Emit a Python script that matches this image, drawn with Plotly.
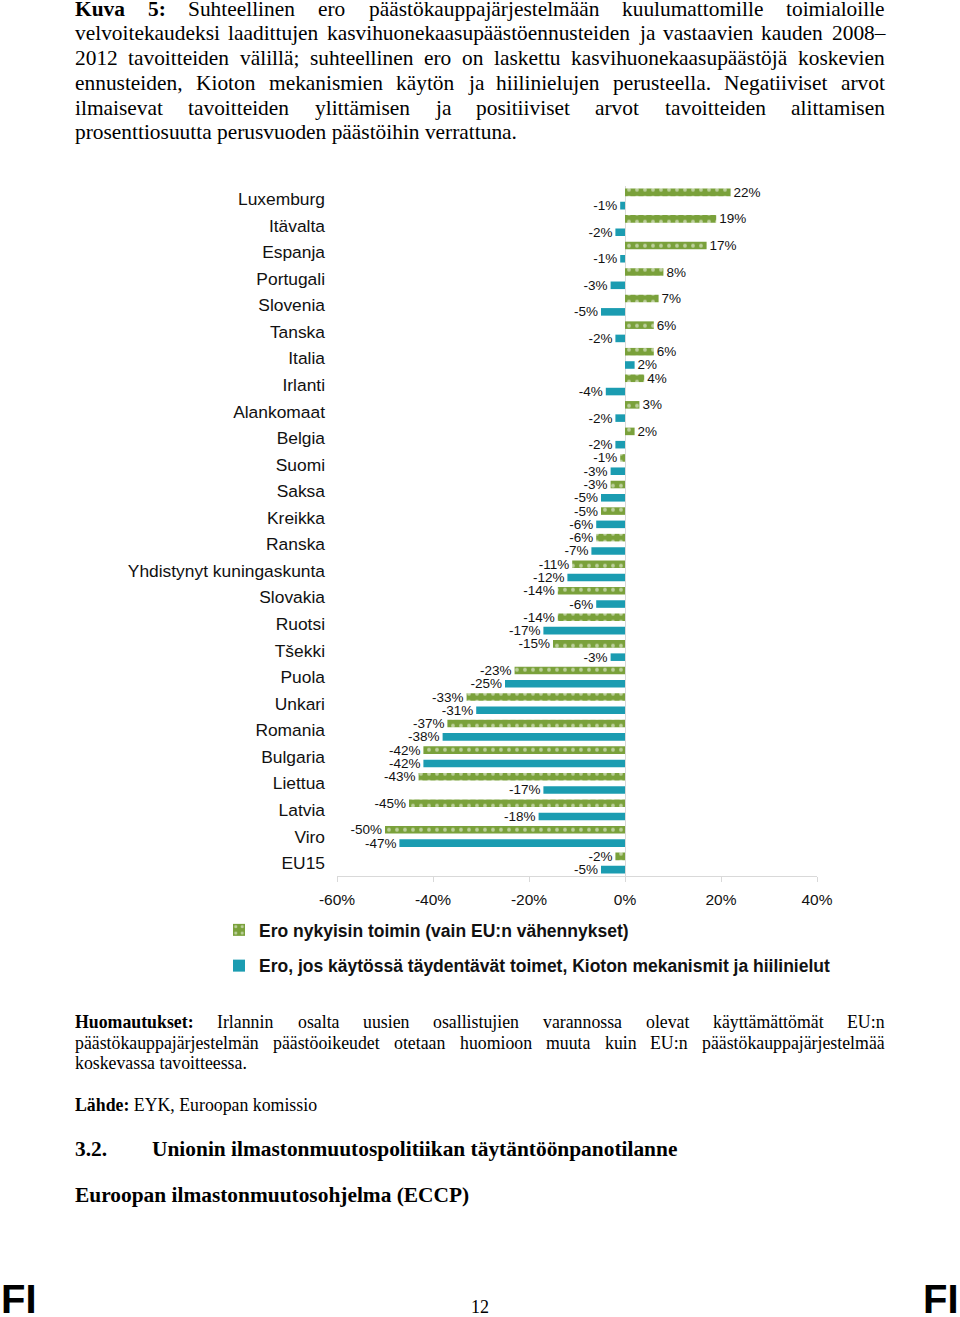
import plotly.graph_objects as go

# ---------------- data ----------------
categories = ["Luxemburg", "Itävalta", "Espanja", "Portugali", "Slovenia", "Tanska",
              "Italia", "Irlanti", "Alankomaat", "Belgia", "Suomi", "Saksa", "Kreikka",
              "Ranska", "Yhdistynyt kuningaskunta", "Slovakia", "Ruotsi", "Tšekki",
              "Puola", "Unkari", "Romania", "Bulgaria", "Liettua", "Latvia", "Viro", "EU15"]
current_measures = [22, 19, 17, 8, 7, 6, 6, 4, 3, 2, -1, -3, -5, -6, -11, -14, -14, -15,
                    -23, -33, -37, -42, -43, -45, -50, -2]
with_supplementary = [-1, -2, -1, -3, -5, -2, 2, -4, -2, -2, -3, -5, -6, -7, -12, -6, -17, -3,
                      -25, -31, -38, -42, -17, -18, -47, -5]
series_names = ["Ero nykyisin toimin (vain EU:n vähennykset)",
                "Ero, jos käytössä täydentävät toimet, Kioton mekanismit ja hiilinielut"]
x_ticks = [-60, -40, -20, 0, 20, 40]

W, H = 960, 1317
GREEN = "#7aa13b"
TEAL = "#1b9cb1"
SANS = "Liberation Sans, Arial, sans-serif"
SERIF = "Liberation Serif, Times New Roman, serif"

def px(x):
    return x / W

def py(y):
    return 1 - y / H

fig = go.Figure()
fig.add_trace(go.Bar(
    y=categories, x=current_measures, orientation="h", name="<b>" + series_names[0] + "</b>",
    marker=dict(color=GREEN, line=dict(width=0),
                pattern=dict(shape=".", fgcolor="white", size=8, solidity=0.18)),
    text=[f"{v}%" for v in current_measures], texttemplate="%{text}",
    textposition="outside", constraintext="none", cliponaxis=False,
    textfont=dict(family=SANS, size=13.5, color="#111"), legendgroup="g1",
))
fig.add_trace(go.Bar(
    y=categories, x=with_supplementary, orientation="h", name="<b>" + series_names[1] + "</b>",
    marker=dict(color=TEAL, line=dict(width=0)),
    text=[f"{v}%" for v in with_supplementary], texttemplate="%{text}",
    textposition="outside", constraintext="none", cliponaxis=False,
    textfont=dict(family=SANS, size=13.5, color="#111"), legendgroup="g2",
))

fig.update_layout(
    width=W, height=H, margin=dict(l=0, r=0, t=0, b=0, autoexpand=False),
    paper_bgcolor="white", plot_bgcolor="white",
    barmode="group", bargap=0.0, bargroupgap=0.43,
    font=dict(family=SANS, color="#111"),
    showlegend=True,
    xaxis=dict(domain=[px(337), px(817)], range=[-60, 40], tickvals=x_ticks,
               ticktext=[f"{v}%" for v in x_ticks], tickfont=dict(size=15.5, color="#111"),
               showgrid=False, zeroline=True, zerolinecolor="#d9d9d9", zerolinewidth=1,
               showline=True, linecolor="#d9d9d9", linewidth=1,
               ticks="outside", ticklen=5, tickcolor="#d9d9d9", ticklabelstandoff=4,
               anchor="y", fixedrange=True, automargin=False),
    yaxis=dict(domain=[py(876.3), py(185.7)], autorange="reversed", type="category",
               tickfont=dict(size=17.4, color="#111"), showgrid=False, showline=False,
               ticks="", ticklabelstandoff=11, fixedrange=True, automargin=False),
    legend=dict(x=px(219), y=py(912), xanchor="left", yanchor="top",
                orientation="v", traceorder="grouped", tracegroupgap=10,
                font=dict(family=SANS, size=17.5, color="#111"), bgcolor="rgba(0,0,0,0)"),
)

# ---------------- surrounding document text ----------------
REG = {" ": 250, "a": 444, "b": 500, "c": 444, "d": 500, "e": 444, "f": 333, "g": 500, "h": 500,
       "i": 278, "j": 278, "k": 500, "l": 278, "m": 778, "n": 500, "o": 500, "p": 500, "q": 500,
       "r": 333, "s": 389, "t": 278, "u": 500, "v": 500, "w": 722, "x": 500, "y": 500, "z": 444,
       "ä": 444, "ö": 500, "A": 722, "B": 667, "C": 667, "D": 722, "E": 611, "F": 556, "G": 722,
       "H": 722, "I": 333, "J": 389, "K": 722, "L": 611, "M": 889, "N": 722, "O": 722, "P": 556,
       "R": 667, "S": 556, "T": 611, "U": 722, "V": 722, "Y": 722, ":": 278, ";": 278, ",": 250,
       ".": 250, "–": 500, "(": 333, ")": 333, "-": 333}
BOLD = {" ": 250, "a": 500, "b": 556, "c": 444, "d": 556, "e": 444, "f": 333, "g": 500, "h": 556,
        "i": 278, "j": 333, "k": 556, "l": 278, "m": 833, "n": 556, "o": 500, "p": 556, "q": 556,
        "r": 444, "s": 389, "t": 333, "u": 556, "v": 500, "w": 722, "x": 500, "y": 500, "z": 444,
        "ä": 500, "ö": 500, "H": 778, "K": 778, "L": 667, "E": 667, "U": 722, ":": 333, ".": 250}

def tw(s, size, bold=False):
    tab = BOLD if bold else REG
    return sum(tab.get(c, 500) for c in s) * size / 1000.0

def word(x, y, text, size, bold=False):
    fig.add_annotation(x=px(x), y=py(y), xref="paper", yref="paper", text=text, showarrow=False,
                       xanchor="left", yanchor="middle", borderpad=0, borderwidth=0,
                       font=dict(family=SERIF, size=size, color="#000",
                                 weight="bold" if bold else "normal"))

def justified(words, y, size, left=75, right=885):
    items = [(w, False) if isinstance(w, str) else w for w in words]
    total = sum(tw(w, size, b) for w, b in items)
    gap = (right - left - total) / (len(items) - 1)
    x = left
    for w, b in items:
        word(x, y, w, size, b)
        x += tw(w, size, b) + gap

CAP = 21.4
NOTE = 17.8
caption = [
    [("Kuva", True), ("5:", True)] + "Suhteellinen ero päästökauppajärjestelmään kuulumattomille toimialoille".split(),
    "velvoitekaudeksi laadittujen kasvihuonekaasupäästöennusteiden ja vastaavien kauden 2008–".split(),
    "2012 tavoitteiden välillä; suhteellinen ero on laskettu kasvihuonekaasupäästöjä koskevien".split(),
    "ennusteiden, Kioton mekanismien käytön ja hiilinielujen perusteella. Negatiiviset arvot".split(),
    "ilmaisevat tavoitteiden ylittämisen ja positiiviset arvot tavoitteiden alittamisen".split(),
]
cap_y = [9, 33, 58, 83, 108]
for words, y in zip(caption, cap_y):
    justified(words, y, CAP)
word(75, 132, "prosenttiosuutta perusvuoden päästöihin verrattuna.", CAP)

notes = [
    [("Huomautukset:", True)] + "Irlannin osalta uusien osallistujien varannossa olevat käyttämättömät EU:n".split(),
    "päästökauppajärjestelmän päästöoikeudet otetaan huomioon muuta kuin EU:n päästökauppajärjestelmää".split(),
]
for words, y in zip(notes, [1022, 1043]):
    justified(words, y, NOTE)
word(75, 1063, "koskevassa tavoitteessa.", NOTE)
word(75, 1105, "<b>Lähde:</b> EYK, Euroopan komissio", NOTE)
word(75, 1149, "3.2.", CAP, True)
word(152, 1149, "Unionin ilmastonmuutospolitiikan täytäntöönpanotilanne", CAP, True)
word(75, 1195, "Euroopan ilmastonmuutosohjelma (ECCP)", CAP, True)

for x, anchor in [(0, "left"), (W, "right")]:
    fig.add_annotation(x=px(x), y=py(1299), xref="paper", yref="paper", text="<b>FI</b>",
                       showarrow=False, xanchor=anchor, yanchor="middle", borderpad=0,
                       font=dict(family=SANS, size=40, color="#000"))
fig.add_annotation(x=px(480), y=py(1307), xref="paper", yref="paper", text="12", showarrow=False,
                   xanchor="center", yanchor="middle", borderpad=0,
                   font=dict(family=SERIF, size=18, color="#000"))

fig.write_html("out.html", config={"displayModeBar": False, "staticPlot": True},
               post_script="document.body.style.margin='0px';document.body.style.overflow='hidden';")
